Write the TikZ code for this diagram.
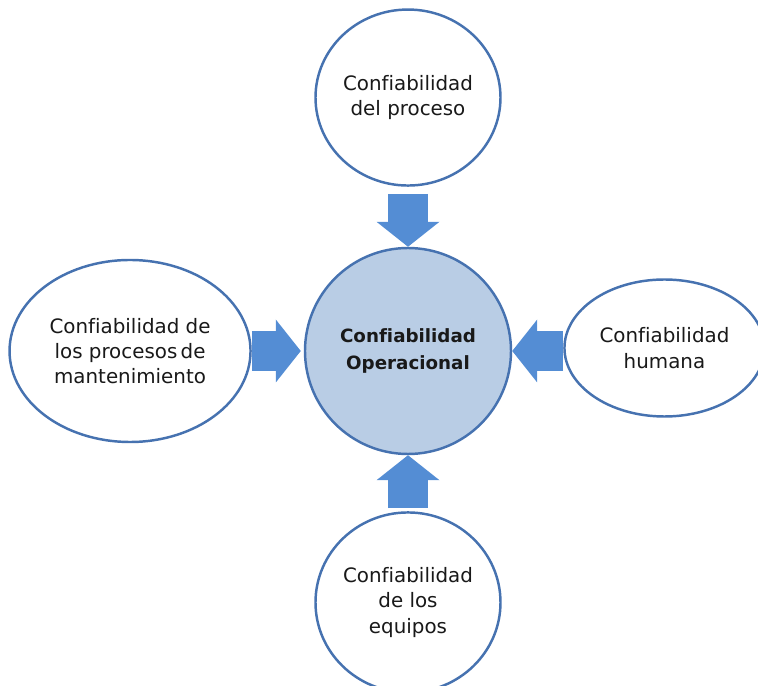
\documentclass[tikz,border=0pt]{standalone}
\usepackage{fontspec}
\setmainfont[Ligatures=NoCommon]{DejaVu Sans}
\usepackage{tikz}
\usetikzlibrary{shapes.geometric}
\usetikzlibrary{positioning}
\usetikzlibrary{arrows.meta}
\definecolor{borde}{RGB}{70,114,176}
\definecolor{relleno}{RGB}{185,205,229}
\definecolor{flechaazul}{RGB}{84,141,212}
\definecolor{texto}{RGB}{25,25,25}
\begin{document}
\begin{tikzpicture}
          [line width=1.4pt,
           outer/.style = {draw=borde, ellipse, fill=white, inner sep=0pt, align=center, text=texto, font=\fontsize{11.3}{14.4}\selectfont},
           core/.style = {draw=borde, circle, fill=relleno, minimum size=4.12cm, align=center, text=texto, font=\bfseries\fontsize{10.4}{15.4}\selectfont},
           flecha/.style = {draw=flechaazul, line width=0.8cm, -{Triangle[length=0.5cm, width=1.26cm, line width=0pt]}}]
          \useasboundingbox (-8.16,7.02) rectangle (7.0,-6.7);
          \node[core] (1) at (0,0) {Confiabilidad\\Operacional};
          \node[outer, minimum width=3.7cm, minimum height=3.52cm] (2) [above=1.2cm of 1] {Confiabilidad\\del proceso};
          \node[outer, minimum width=4.82cm, minimum height=3.64cm] (3) [left=1.04cm of 1] {Confiabilidad de\\los procesos\,de\\mantenimiento};
          \node[outer, minimum width=4.0cm, minimum height=2.74cm] (4) [right=1.02cm of 1, yshift=0.06cm] {Confiabilidad\\humana};
          \node[outer, minimum width=3.7cm, minimum height=3.6cm] (5) [below=1.12cm of 1] {Confiabilidad\\de los\\equipos};

          \draw[flecha, shorten <=0.14cm] (2) to (1);
          \draw[flecha, shorten >=0.06cm] (3) to (1);
          \draw[flecha] (4.west |- 1.east) to (1.east);
          \draw[flecha, shorten <=0.06cm] (5) to (1);
\end{tikzpicture}
\end{document}
